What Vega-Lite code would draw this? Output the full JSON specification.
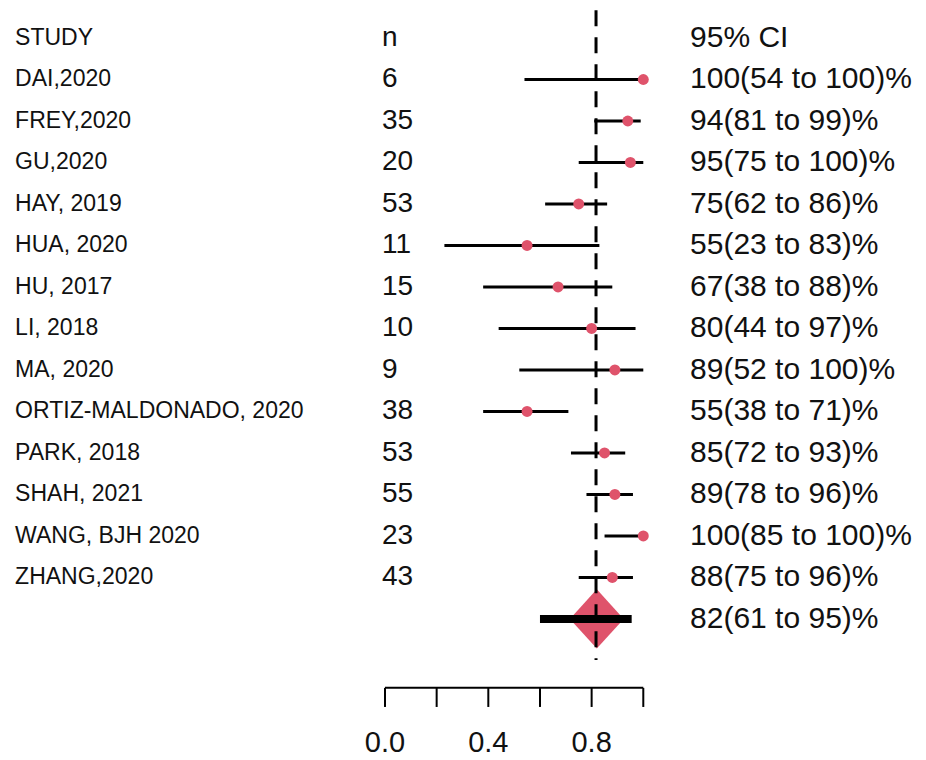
{
  "$schema": "https://vega.github.io/schema/vega-lite/v6.json",
  "width": 926,
  "height": 760,
  "padding": 0,
  "autosize": {"type": "none"},
  "background": "white",
  "config": {"view": {"stroke": null}, "text": {"font": "Liberation Sans"}},
  "datasets": {
    "rows": [
      {"row": 0, "study": "STUDY", "n": "n", "ci": "95% CI"},
      {"row": 1, "study": "DAI,2020", "n": "6", "est": 1.0, "lo": 0.54, "hi": 1.0, "ci": "100(54 to 100)%"},
      {"row": 2, "study": "FREY,2020", "n": "35", "est": 0.94, "lo": 0.81, "hi": 0.99, "ci": "94(81 to 99)%"},
      {"row": 3, "study": "GU,2020", "n": "20", "est": 0.95, "lo": 0.75, "hi": 1.0, "ci": "95(75 to 100)%"},
      {"row": 4, "study": "HAY, 2019", "n": "53", "est": 0.75, "lo": 0.62, "hi": 0.86, "ci": "75(62 to 86)%"},
      {"row": 5, "study": "HUA, 2020", "n": "11", "est": 0.55, "lo": 0.23, "hi": 0.83, "ci": "55(23 to 83)%"},
      {"row": 6, "study": "HU, 2017", "n": "15", "est": 0.67, "lo": 0.38, "hi": 0.88, "ci": "67(38 to 88)%"},
      {"row": 7, "study": "LI, 2018", "n": "10", "est": 0.8, "lo": 0.44, "hi": 0.97, "ci": "80(44 to 97)%"},
      {"row": 8, "study": "MA, 2020", "n": "9", "est": 0.89, "lo": 0.52, "hi": 1.0, "ci": "89(52 to 100)%"},
      {"row": 9, "study": "ORTIZ-MALDONADO, 2020", "n": "38", "est": 0.55, "lo": 0.38, "hi": 0.71, "ci": "55(38 to 71)%"},
      {"row": 10, "study": "PARK, 2018", "n": "53", "est": 0.85, "lo": 0.72, "hi": 0.93, "ci": "85(72 to 93)%"},
      {"row": 11, "study": "SHAH, 2021", "n": "55", "est": 0.89, "lo": 0.78, "hi": 0.96, "ci": "89(78 to 96)%"},
      {"row": 12, "study": "WANG, BJH 2020", "n": "23", "est": 1.0, "lo": 0.85, "hi": 1.0, "ci": "100(85 to 100)%"},
      {"row": 13, "study": "ZHANG,2020", "n": "43", "est": 0.88, "lo": 0.75, "hi": 0.96, "ci": "88(75 to 96)%"},
      {"row": 14, "study": "", "n": "", "pest": 0.82, "plo": 0.6, "phi": 0.955, "ci": "82(61 to 95)%"}
    ],
    "ticks": [
      {"v": 0.0, "lab": "0.0"},
      {"v": 0.2, "lab": ""},
      {"v": 0.4, "lab": "0.4"},
      {"v": 0.6, "lab": ""},
      {"v": 0.8, "lab": "0.8"},
      {"v": 1.0, "lab": ""}
    ]
  },
  "data": {"name": "rows"},
  "resolve": {"scale": {"x": "shared", "y": "shared"}},
  "layer": [
    {
      "transform": [{"filter": "isValid(datum.lo)"}],
      "mark": {"type": "rule", "color": "black", "strokeWidth": 3},
      "encoding": {
        "x": {"field": "lo", "type": "quantitative", "axis": null,
              "scale": {"domain": [-1.4905, 2.0945], "nice": false, "zero": false}},
        "x2": {"field": "hi"},
        "y": {"field": "row", "type": "quantitative", "axis": null,
              "scale": {"domain": [-0.9157, 17.398], "reverse": true, "nice": false, "zero": false}}
      }
    },
    {
      "transform": [{"filter": "isValid(datum.est)"}],
      "mark": {"type": "point", "shape": "circle", "filled": true, "color": "#DF536B", "size": 120, "opacity": 1},
      "encoding": {
        "x": {"field": "est", "type": "quantitative"},
        "y": {"field": "row", "type": "quantitative"}
      }
    },
    {
      "transform": [{"filter": "isValid(datum.pest)"}],
      "mark": {"type": "point", "shape": "M-1,0L0,-1.1L1,0L0,1.1Z", "filled": true, "color": "#DF536B", "size": 2900, "opacity": 1},
      "encoding": {
        "x": {"field": "pest", "type": "quantitative"},
        "y": {"field": "row", "type": "quantitative"}
      }
    },
    {
      "transform": [{"filter": "isValid(datum.plo)"}],
      "mark": {"type": "rule", "color": "black", "strokeWidth": 8},
      "encoding": {
        "x": {"field": "plo", "type": "quantitative"},
        "x2": {"field": "phi"},
        "y": {"field": "row", "type": "quantitative"}
      }
    },
    {
      "mark": {"type": "text", "align": "left", "baseline": "middle", "fontSize": 23, "color": "#111"},
      "encoding": {
        "x": {"datum": -1.432},
        "y": {"field": "row", "type": "quantitative"},
        "text": {"field": "study"}
      }
    },
    {
      "mark": {"type": "text", "align": "left", "baseline": "middle", "fontSize": 28, "color": "#111"},
      "encoding": {
        "x": {"datum": -0.012},
        "y": {"field": "row", "type": "quantitative"},
        "text": {"field": "n"}
      }
    },
    {
      "mark": {"type": "text", "align": "left", "baseline": "middle", "fontSize": 30, "color": "#111"},
      "encoding": {
        "x": {"datum": 1.181},
        "y": {"field": "row", "type": "quantitative"},
        "text": {"field": "ci"}
      }
    },
    {
      "data": {"values": [{"x": 0.817, "y1": -0.67, "y2": 14.99}]},
      "mark": {"type": "rule", "color": "black", "strokeWidth": 3, "strokeDash": [16, 11]},
      "encoding": {
        "x": {"field": "x", "type": "quantitative"},
        "y": {"field": "y1", "type": "quantitative"},
        "y2": {"field": "y2"}
      }
    },
    {
      "data": {"values": [{"a": 0, "b": 1, "yy": 15.66}]},
      "mark": {"type": "rule", "color": "black", "strokeWidth": 2},
      "encoding": {
        "x": {"field": "a", "type": "quantitative"},
        "x2": {"field": "b"},
        "y": {"field": "yy", "type": "quantitative"}
      }
    },
    {
      "data": {"name": "ticks"},
      "mark": {"type": "rule", "color": "black", "strokeWidth": 2},
      "encoding": {
        "x": {"field": "v", "type": "quantitative"},
        "y": {"datum": 15.66},
        "y2": {"datum": 16.12}
      }
    },
    {
      "data": {"name": "ticks"},
      "mark": {"type": "text", "align": "center", "baseline": "middle", "fontSize": 29, "color": "#111"},
      "encoding": {
        "x": {"field": "v", "type": "quantitative"},
        "y": {"datum": 17.0},
        "text": {"field": "lab"}
      }
    }
  ]
}
